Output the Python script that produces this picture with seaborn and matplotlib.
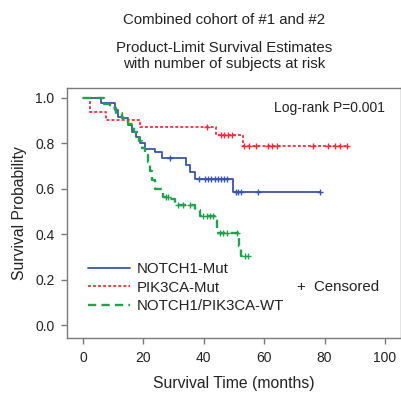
import numpy as np
import seaborn as sns
import matplotlib
matplotlib.use("Agg")
import matplotlib.pyplot as plt

# step times (months) and survival after each step, plus censored times
notch_t = [6, 10.5, 11.7, 13.3, 14.8, 16.1, 17.5, 18.9, 20.5, 23.8, 26, 34, 35.5, 37, 49.7]
notch_s = [0.98, 0.947, 0.918, 0.91, 0.88, 0.85, 0.83, 0.80, 0.775, 0.76, 0.735, 0.705, 0.675, 0.643, 0.585]
notch_cens = [28.8, 38.5, 40.4, 41.5, 42.5, 43.7, 44.7, 45.7, 46.6, 47.6, 50.5, 51.4, 52.3, 58, 78.5]

pik_t = [2.3, 7.6, 18.9, 44.2, 52.9]
pik_s = [0.94, 0.905, 0.874, 0.837, 0.789]
pik_cens = [41.2, 45.6, 46.8, 48.0, 49.3, 53.3, 54.9, 57.2, 61.4, 62.6, 64.1, 76.3, 81.2, 83.4, 85.1, 87.3]

wt_t = [7, 9, 11, 13, 15, 17, 18.5, 19.5, 20.5, 21.5, 22.3, 23, 23.8, 26.5, 28.8, 30.5, 37, 38.7, 44.5, 51.8, 52.4]
wt_s = [0.975, 0.955, 0.935, 0.91, 0.885, 0.85, 0.81, 0.78, 0.75, 0.72, 0.68, 0.64, 0.60, 0.565, 0.553, 0.529, 0.507, 0.48, 0.404, 0.35, 0.305]
wt_cens = [27.5, 28.2, 31.6, 33.2, 35.4, 39.8, 41.0, 42.0, 43.1, 45.4, 46.5, 47.6, 50.9, 53.6, 54.7]

groups = ["NOTCH1-Mut", "PIK3CA-Mut", "NOTCH1/PIK3CA-WT"]
colors = ["#3a55a8", "#e8303a", "#23a04c"]
styles = ["-", (0, (1.6, 1.2)), (0, (3.5, 2.2))]
widths = [1.3, 1.3, 1.7]

sns.set_style("ticks")
plt.rcParams["font.family"] = ["Liberation Sans", "DejaVu Sans"]

fig = plt.figure(figsize=(4.02, 3.96), dpi=100)
ax = fig.add_axes([67 / 402, 1 - 338 / 396, 334 / 402, 250 / 396])

data = [(notch_t, notch_s, notch_cens), (pik_t, pik_s, pik_cens), (wt_t, wt_s, wt_cens)]
for (t, s, c), name, col, ls, lw in zip(data, groups, colors, styles, widths):
    tt = np.r_[0, t, max(c)]
    ss = np.r_[1.0, s, s[-1]]
    sns.lineplot(x=tt, y=ss, drawstyle="steps-post", estimator=None, sort=False,
                 color=col, linestyle=ls, linewidth=lw, label=name, ax=ax)
    s_full = np.r_[1.0, s]
    cy = s_full[np.searchsorted(t, c, side="right")]
    sns.scatterplot(x=c, y=cy, marker="+", s=18, color=col, linewidth=1.0,
                    legend=False, ax=ax)

ax.set_xlim(-5.3, 105.3)
ax.set_ylim(-0.057, 1.044)
ax.set_xticks([0, 20, 40, 60, 80, 100])
ax.set_yticks([0.0, 0.2, 0.4, 0.6, 0.8, 1.0])
ax.set_yticklabels(["0.0", "0.2", "0.4", "0.6", "0.8", "1.0"])
for sp in ax.spines.values():
    sp.set_visible(True)
    sp.set_color("#7a7a7a")
    sp.set_linewidth(1.0)
ax.tick_params(axis="both", colors="#7a7a7a", labelcolor="#222222",
               labelsize=10, length=4, width=1.0, pad=5)

ax.set_xlabel("Survival Time (months)", fontsize=11.3, color="#222222", labelpad=8)
ax.set_ylabel("Survival Probability", fontsize=11.3, color="#222222", labelpad=6)

leg = ax.legend(loc="upper left", bbox_to_anchor=(0.062, 0.305), frameon=False,
                fontsize=10.8, handlelength=2.8, handletextpad=0.5,
                labelspacing=0.32, borderaxespad=0, borderpad=0)
for txt in leg.get_texts():
    txt.set_color("#222222")

ax.text(0.689, 0.204, "+  Censored", transform=ax.transAxes, fontsize=10.8,
        color="#222222", va="center", ha="left")
ax.text(0.952, 0.92, "Log-rank P=0.001", transform=ax.transAxes, fontsize=10,
        color="#222222", va="center", ha="right")

fig.text(0.558, 1 - 19.5 / 396, "Combined cohort of #1 and #2", fontsize=10.8,
         color="#222222", ha="center", va="center")
fig.text(0.558, 1 - 56 / 396, "Product-Limit Survival Estimates\nwith number of subjects at risk",
         fontsize=10.8, color="#222222", ha="center", va="center", linespacing=1.15)

fig.savefig("out.png", dpi=100)
